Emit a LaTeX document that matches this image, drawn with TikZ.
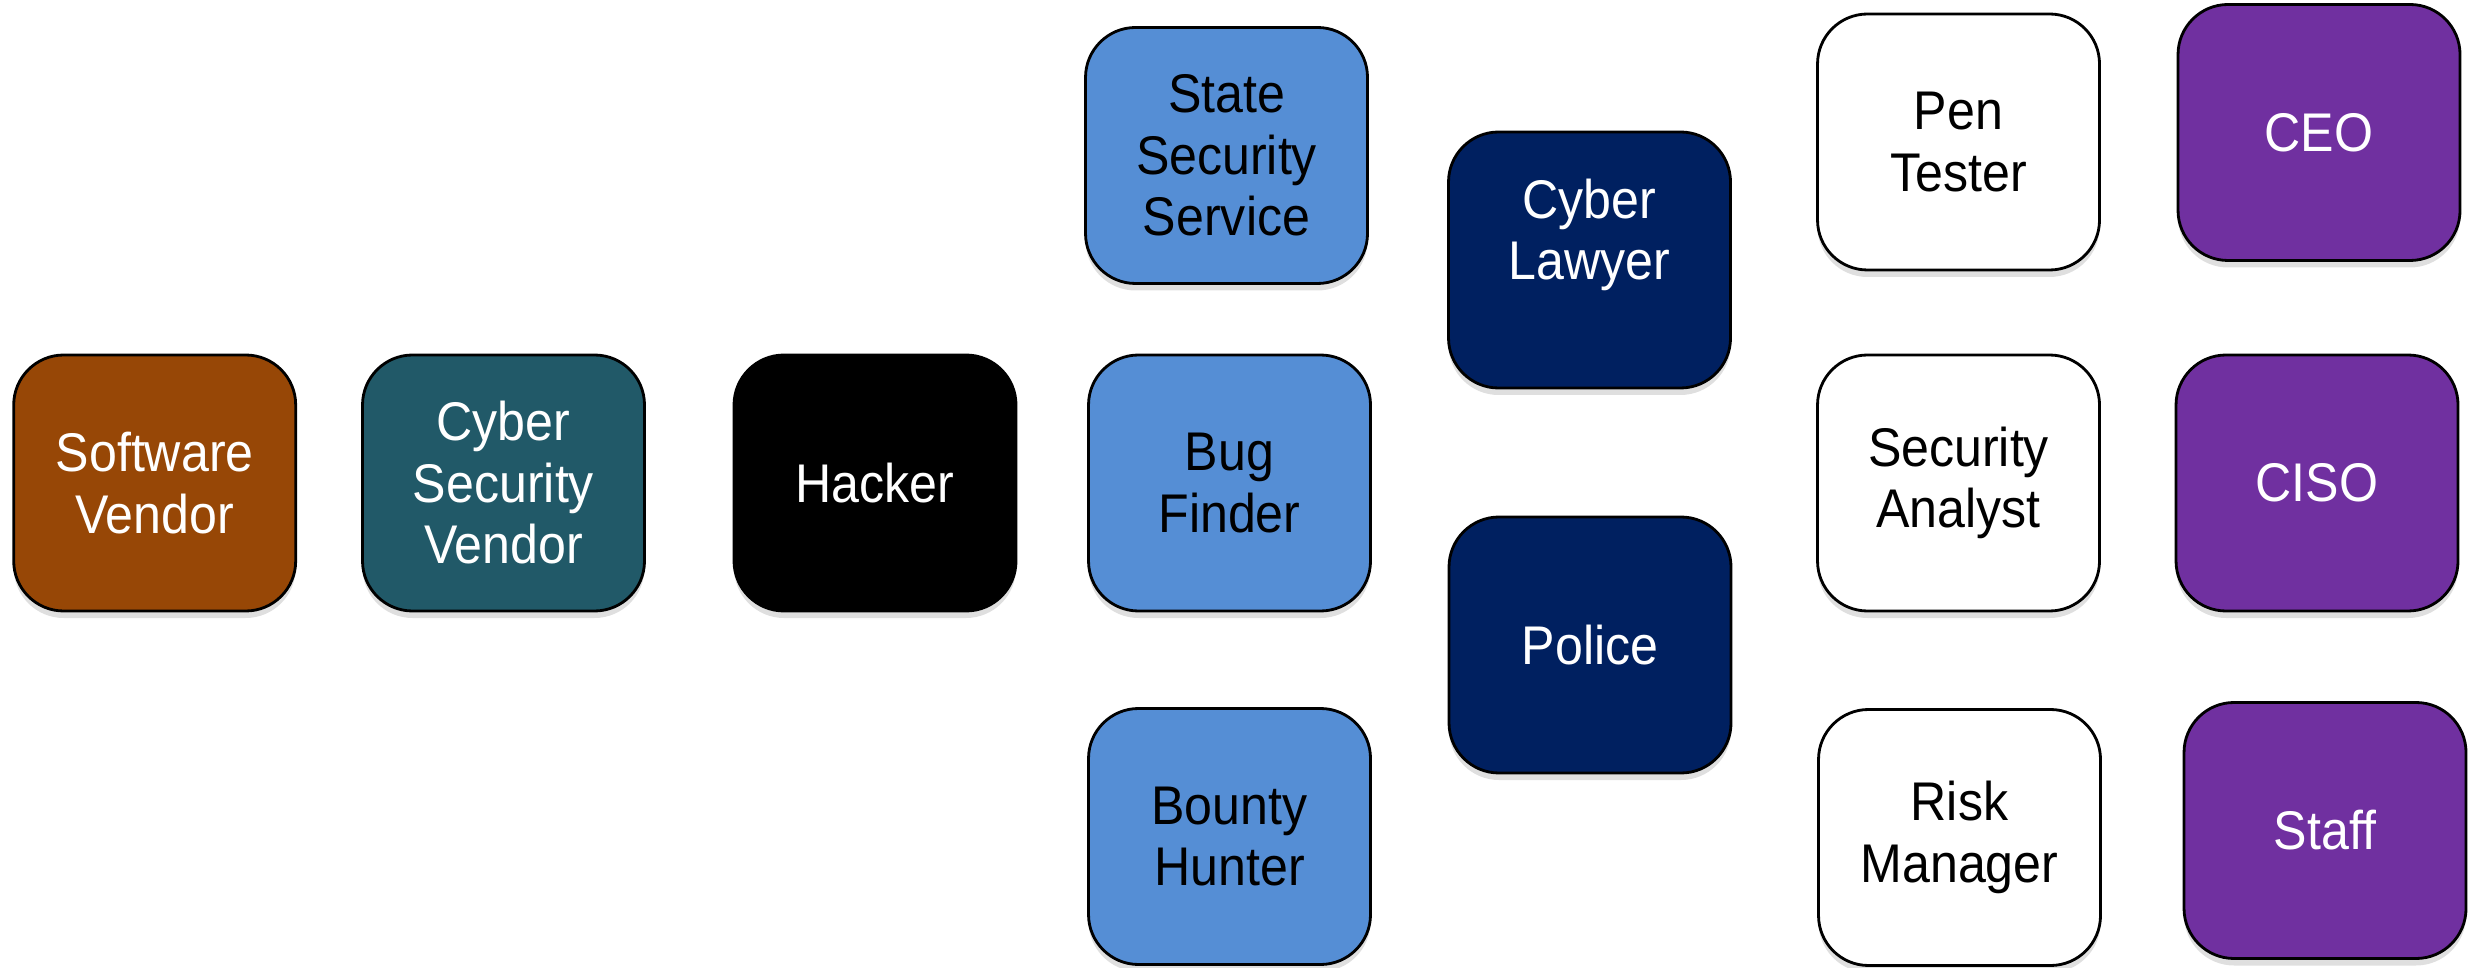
\documentclass[tikz,border=0pt]{standalone}
\usepackage{fontspec}
\setmainfont{Liberation Sans}[FakeStretch=0.92]
\usetikzlibrary{shadows}

\definecolor{vendorbrown}{HTML}{974706}
\definecolor{vendorteal}{HTML}{215968}
\definecolor{lightblue}{HTML}{558ED5}
\definecolor{navy}{HTML}{002060}
\definecolor{boardpurple}{HTML}{7030A0}

\begin{document}
\begin{tikzpicture}

			\tikzstyle{role}=[draw=black,line width=0.8pt,
				rounded corners=0.5cm,
				minimum width=2.82cm,minimum height=2.56cm,
				align=center,font=\fontsize{15.5}{17.5}\selectfont,
				drop shadow={shadow xshift=0pt,shadow yshift=-0.07cm,opacity=0.25}]
			\tikzstyle{dark}=[role,text=white]
			\tikzstyle{agency}=[role,fill=lightblue,text=black]
			\tikzstyle{law}=[role,fill=navy,text=white]
			\tikzstyle{expert}=[role,fill=white,text=black]
			\tikzstyle{board}=[role,fill=boardpurple,text=white]

			\useasboundingbox (0,0) rectangle (24.75,-9.68);

			\node[dark,fill=vendorbrown]	(swvendor)	at (1.547,-4.83)	{Software\\Vendor};
			\node[dark,fill=vendorteal]	(csvendor)	at (5.035,-4.83)	{Cyber\\Security\\Vendor};
			\node[dark,fill=black]		(hacker)	at (8.75,-4.83)	{Hacker};

			\node[agency]	(state)		at (12.265,-1.555)	{State\\Security\\Service};
			\node[agency]	(bugfinder)	at (12.295,-4.83)	{Bug\\Finder};
			\node[agency]	(bounty)	at (12.295,-8.365)	{Bounty\\Hunter};

			\node[law]	(lawyer)	at (15.895,-2.60)	{Cyber\\Lawyer\\~};
			\node[law]	(police)	at (15.90,-6.45)	{Police};

			\node[expert]	(pentester)	at (19.585,-1.42)	{Pen\\Tester};
			\node[expert]	(analyst)	at (19.585,-4.83)	{Security\\Analyst};
			\node[expert]	(riskmgr)	at (19.595,-8.375)	{Risk\\Manager};

			\node[board]	(ceo)		at (23.19,-1.325)	{CEO};
			\node[board]	(ciso)		at (23.17,-4.83)	{CISO};
			\node[board]	(staff)		at (23.25,-8.305)	{Staff};

\end{tikzpicture}
\end{document}
